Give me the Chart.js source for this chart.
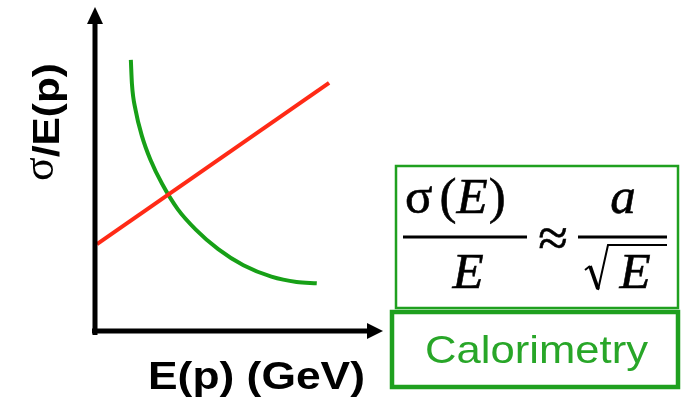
<!DOCTYPE html>
<html>
<head>
<meta charset="utf-8">
<script src="https://cdn.jsdelivr.net/npm/chart.js@4.4.1/dist/chart.umd.min.js"></script>
<style>
  html, body { margin:0; padding:0; background:#fff; }
  canvas { display:block; }
</style>
</head>
<body>
<canvas id="myChart" width="682" height="402"></canvas>
<script>
// sketch values (axes are 0..10, no ticks)
const redX = [0.07, 8.36];
const redY = [2.75, 7.85];
const greenX = [1.28, 1.32, 1.45, 1.68, 1.98, 2.40, 2.96, 3.60, 4.40, 5.30, 6.30, 7.20, 7.92];
const greenY = [8.58, 7.81, 6.99, 6.16, 5.42, 4.65, 3.85, 3.21, 2.59, 2.08, 1.72, 1.55, 1.51];

const xTitle = "E(p) (GeV)";
const yTitle = ["\u03c3", "/E(p)"];
const boxLabel = "Calorimetry";

const GREEN = '#1fa01f';

const toPts = (xs, ys) => xs.map((x, i) => ({x: x, y: ys[i]}));

// draw text squeezed/stretched to a given width
function fitText(c, txt, x, y, w) {
    const m = c.measureText(txt).width;
    c.save();
    c.translate(x, y);
    c.scale(w / m, 1);
    c.fillText(txt, 0, 0);
    c.restore();
}

// slightly heavier serif text, like the pasted equation
function boldish(c, txt, x, y) {
    c.fillText(txt, x, y);
    c.strokeText(txt, x, y);
}

const decor = {
    id: 'decor',
    afterDatasetsDraw(chart) {
        const c = chart.ctx;
        const a = chart.chartArea;
        c.save();
        // axes
        c.strokeStyle = '#000';
        c.fillStyle = '#000';
        c.lineWidth = 5;
        c.lineCap = 'butt';
        c.beginPath();
        c.moveTo(a.left, a.bottom + 4);
        c.lineTo(a.left, a.top + 6);
        c.moveTo(a.left - 3, a.bottom);
        c.lineTo(a.right - 4, a.bottom);
        c.stroke();
        c.beginPath();
        c.moveTo(a.left, a.top - 8);
        c.lineTo(a.left - 8, a.top + 9);
        c.lineTo(a.left + 8, a.top + 9);
        c.closePath();
        c.fill();
        c.beginPath();
        c.moveTo(a.right + 8, a.bottom);
        c.lineTo(a.right - 8, a.bottom - 8);
        c.lineTo(a.right - 8, a.bottom + 8);
        c.closePath();
        c.fill();

        // axis titles
        c.textBaseline = 'alphabetic';
        c.textAlign = 'left';
        c.font = 'bold 39px "Liberation Sans", Arial, sans-serif';
        fitText(c, xTitle, 148, 389, 217);

        c.save();
        c.translate(59, 181);
        c.rotate(-Math.PI / 2);
        c.font = '44px "Liberation Serif", serif';
        const sw = c.measureText(yTitle[0]).width;
        c.fillText(yTitle[0], 0, -6);
        c.font = 'bold 36px "Liberation Sans", Arial, sans-serif';
        fitText(c, yTitle[1], sw, 0, 118 - sw);
        c.restore();

        // formula box + label box
        c.strokeStyle = GREEN;
        c.lineWidth = 2.5;
        c.strokeRect(396, 166, 282, 142);
        c.lineWidth = 4.5;
        c.strokeRect(392, 312, 286, 75);

        c.fillStyle = '#000';
        c.strokeStyle = '#000';
        c.lineWidth = 0.6;
        const serif = '"Liberation Serif", "Times New Roman", serif';
        let x = 405;
        c.font = '51px ' + serif;
        boldish(c, '\u03c3', x, 213);
        x += c.measureText('\u03c3').width + 7;
        boldish(c, '(', x, 213);
        x += c.measureText('(').width;
        c.font = 'italic 51px ' + serif;
        boldish(c, 'E', x, 213);
        x += c.measureText('E').width + 1;
        c.font = '51px ' + serif;
        boldish(c, ')', x, 213);

        c.lineWidth = 2.8;
        c.beginPath();
        c.moveTo(403, 237); c.lineTo(527, 237);
        c.moveTo(578, 237); c.lineTo(667, 237);
        c.stroke();

        c.textAlign = 'center';
        c.lineWidth = 0.6;
        c.font = 'italic 51px ' + serif;
        boldish(c, 'E', 468, 288);
        boldish(c, 'a', 623, 213);
        boldish(c, 'E', 635, 288);
        c.font = '54px ' + serif;
        boldish(c, '\u2248', 553, 256);

        // radical sign
        c.lineJoin = 'miter';
        c.lineWidth = 2;
        c.beginPath();
        c.moveTo(585, 270);
        c.lineTo(590, 266);
        c.moveTo(598, 290);
        c.lineTo(608, 245);
        c.lineTo(667, 245);
        c.stroke();
        c.lineWidth = 3.8;
        c.beginPath();
        c.moveTo(590, 266);
        c.lineTo(598, 289);
        c.stroke();

        // label box text
        c.textAlign = 'left';
        c.fillStyle = '#28a628';
        c.font = '39px "Liberation Sans", Arial, sans-serif';
        fitText(c, boxLabel, 425, 363, 223);
        c.restore();
    }
};

const ctx = document.getElementById('myChart');
const myChart = new Chart(ctx, {
    type: 'scatter',
    data: {
        datasets: [{
            data: toPts(redX, redY),
            showLine: true,
            borderColor: '#ff2a16',
            borderWidth: 4,
            pointRadius: 0
        }, {
            data: toPts(greenX, greenY),
            showLine: true,
            borderColor: '#17a017',
            borderWidth: 4,
            pointRadius: 0,
            cubicInterpolationMode: 'monotone'
        }]
    },
    options: {
        responsive: false,
        animation: false,
        devicePixelRatio: 1,
        layout: { padding: { left: 95, right: 307, top: 15, bottom: 71 } },
        plugins: {
            legend: { display: false },
            tooltip: { enabled: false }
        },
        scales: {
            x: { type: 'linear', min: 0, max: 10, display: false },
            y: { type: 'linear', min: 0, max: 10, display: false }
        }
    },
    plugins: [decor]
});
</script>
</body>
</html>
